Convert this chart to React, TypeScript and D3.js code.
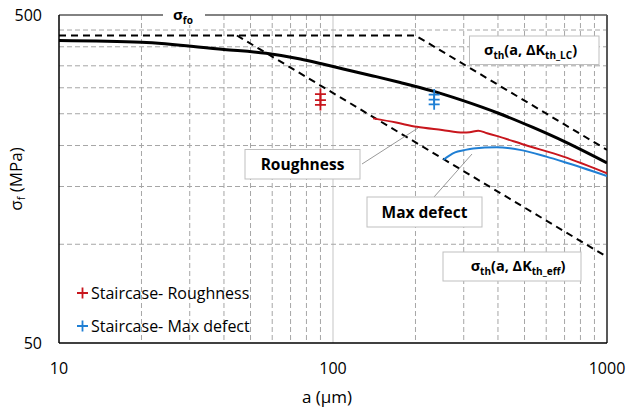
import { useEffect, useRef } from 'react'
import * as d3 from 'd3'

// a (µm) vs sigma (MPa)
const LC_LINE: [number, number][] = [[10, 433], [200, 433], [1000, 194]]
const EFF_LINE: [number, number][] = [[44.6, 433], [1000, 91.5]]
const KT_CURVE: [number, number][] = [
  [10, 418], [20, 413], [40, 392.5], [57, 382], [76, 367], [90, 355.6], [109, 342.3],
  [140, 326], [176, 311.3], [232, 293], [291, 276], [406, 250], [537, 227], [700, 205.5], [1000, 177],
]
const ROUGHNESS: [number, number][] = [
  [140, 242], [170, 235], [202, 228], [250, 223], [299, 219], [315, 219.5], [339, 222],
  [365, 218], [395, 214], [500, 201], [693, 185], [1000, 164.6],
]
const MAX_DEFECT: [number, number][] = [
  [253, 181], [265, 186], [279, 190.6], [300, 193.5], [325, 196], [395, 197.6],
  [481, 194], [600, 185], [693, 178.5], [1000, 161.5],
]
const STAIR_ROUGH: [number, number][] = [[90, 287], [90, 275], [90, 266]]
const STAIR_DEFECT: [number, number][] = [[234, 286], [234, 276], [234, 267]]

const X_MINOR = [20, 30, 40, 50, 60, 70, 80, 90, 200, 300, 400, 500, 600, 700, 800, 900]
const X_MAJOR = [100]
const Y_GRID = [100, 150, 200, 250, 300, 350, 400, 450]
const X_TICKS = [10, 100, 1000]
const Y_TICKS = [50, 500]

const RED = '#c8161d'
const BLUE = '#1f7fd4'
const FONT = '"Open Sans", sans-serif'

export default function App() {
  const ref = useRef<SVGSVGElement>(null)

  useEffect(() => {
    const svg = d3.select(ref.current)
    svg.selectAll('*').remove()

    const left = 59, right = 607, top = 15, bottom = 343
    const x = d3.scaleLog().domain([10, 1000]).range([left, right])
    const y = d3.scaleLog().domain([50, 500]).range([bottom, top])

    svg.append('defs').append('clipPath').attr('id', 'plot-clip')
      .append('rect').attr('x', left).attr('y', top)
      .attr('width', right - left).attr('height', bottom - top)

    // grid
    const grid = svg.append('g')
    grid.selectAll('.vminor').data(X_MINOR).join('line')
      .attr('x1', d => x(d)).attr('x2', d => x(d)).attr('y1', top).attr('y2', bottom)
      .attr('stroke', '#a6a6a6').attr('stroke-width', 1).attr('stroke-dasharray', '5,3')
    grid.selectAll('.vmajor').data(X_MAJOR).join('line')
      .attr('x1', d => x(d)).attr('x2', d => x(d)).attr('y1', top).attr('y2', bottom)
      .attr('stroke', '#d9d9d9').attr('stroke-width', 1.5)
    grid.selectAll('.hgrid').data(Y_GRID).join('line')
      .attr('x1', left).attr('x2', right).attr('y1', d => y(d)).attr('y2', d => y(d))
      .attr('stroke', '#a6a6a6').attr('stroke-width', 1).attr('stroke-dasharray', '5,3')

    // frame
    svg.append('line').attr('x1', left).attr('x2', right).attr('y1', top).attr('y2', top)
      .attr('stroke', '#595959').attr('stroke-width', 1.5)
    svg.append('line').attr('x1', right).attr('x2', right).attr('y1', top).attr('y2', bottom)
      .attr('stroke', '#595959').attr('stroke-width', 2)
    svg.append('line').attr('x1', left).attr('x2', left).attr('y1', top).attr('y2', bottom)
      .attr('stroke', '#000').attr('stroke-width', 1.5)
    svg.append('line').attr('x1', left).attr('x2', right).attr('y1', bottom).attr('y2', bottom)
      .attr('stroke', '#000').attr('stroke-width', 1.5)

    const plot = svg.append('g').attr('clip-path', 'url(#plot-clip)')
    const straight = d3.line<[number, number]>().x(d => x(d[0])).y(d => y(d[1]))
    const smooth = d3.line<[number, number]>().x(d => x(d[0])).y(d => y(d[1])).curve(d3.curveMonotoneX)

    plot.append('path').attr('d', straight(LC_LINE)).attr('fill', 'none')
      .attr('stroke', '#000').attr('stroke-width', 2).attr('stroke-dasharray', '7,5')
    plot.append('path').attr('d', straight(EFF_LINE)).attr('fill', 'none')
      .attr('stroke', '#000').attr('stroke-width', 2).attr('stroke-dasharray', '7,5')
    plot.append('path').attr('d', smooth(KT_CURVE)).attr('fill', 'none')
      .attr('stroke', '#000').attr('stroke-width', 3)
    plot.append('path').attr('d', smooth(ROUGHNESS)).attr('fill', 'none')
      .attr('stroke', RED).attr('stroke-width', 2)
    plot.append('path').attr('d', smooth(MAX_DEFECT)).attr('fill', 'none')
      .attr('stroke', BLUE).attr('stroke-width', 2)

    const plus = (g: d3.Selection<SVGGElement, unknown, null, undefined>, data: [number, number][], color: string) => {
      g.selectAll('path.pm').data(data).join('path')
        .attr('d', d => `M${x(d[0]) - 5.5},${y(d[1])}h11M${x(d[0])},${y(d[1]) - 5.5}v11`)
        .attr('stroke', color).attr('stroke-width', 1.8).attr('fill', 'none')
    }
    plus(plot.append('g'), STAIR_ROUGH, RED)
    plus(plot.append('g'), STAIR_DEFECT, BLUE)

    // leader lines
    svg.append('line').attr('x1', 362).attr('y1', 164).attr('x2', 418).attr('y2', 128)
      .attr('stroke', '#7f7f7f').attr('stroke-width', 0.8)
    svg.append('line').attr('x1', 434).attr('y1', 197).attr('x2', 472).attr('y2', 154)
      .attr('stroke', '#7f7f7f').attr('stroke-width', 0.8)

    // label boxes
    const box = (x0: number, y0: number, w: number, h: number) =>
      svg.append('rect').attr('x', x0).attr('y', y0).attr('width', w).attr('height', h)
        .attr('fill', '#fff').attr('stroke', '#bfbfbf').attr('stroke-width', 1)
    box(245, 149.5, 115, 29.5)
    box(367, 197, 115, 30)
    box(469.5, 36, 129.5, 28.5)
    box(443, 252, 138, 29)

    const label = (cx: number, by: number, txt: string) =>
      svg.append('text').attr('x', cx).attr('y', by).attr('text-anchor', 'middle')
        .attr('font-family', FONT).attr('font-weight', 700).attr('font-size', 15.5).text(txt)
    label(302.5, 170, 'Roughness')
    label(424.5, 218, 'Max defect')

    const sigmaLabel = (cx: number, by: number, sub: string) => {
      const t = svg.append('text').attr('x', cx).attr('y', by).attr('text-anchor', 'middle')
        .attr('font-family', FONT).attr('font-weight', 700).attr('font-size', 14.5)
      t.append('tspan').text('σ')
      t.append('tspan').attr('font-size', 10).attr('dy', 4).text('th')
      t.append('tspan').attr('dy', -4).text('(a, ΔK')
      t.append('tspan').attr('font-size', 10).attr('dy', 4).text(sub)
      t.append('tspan').attr('dy', -4).text(')')
    }
    sigmaLabel(530.5, 55, 'th_LC')
    sigmaLabel(518, 271, 'th_eff')

    // sigma_fo on the top border
    svg.append('rect').attr('x', 163).attr('y', 5).attr('width', 42).attr('height', 20).attr('fill', '#fff')
    const fo = svg.append('text').attr('x', 183).attr('y', 20).attr('text-anchor', 'middle')
      .attr('font-family', FONT).attr('font-weight', 700).attr('font-size', 15)
    fo.append('tspan').text('σ')
    fo.append('tspan').attr('font-size', 10).attr('dy', 4).text('fo')

    // ticks
    svg.selectAll('.xt').data(X_TICKS).join('text')
      .attr('x', d => x(d)).attr('y', 374).attr('text-anchor', 'middle')
      .attr('font-family', FONT).attr('font-size', 16).attr('fill', '#000').text(d => d)
    svg.selectAll('.yt').data(Y_TICKS).join('text')
      .attr('x', 42).attr('y', d => y(d) + 6).attr('text-anchor', 'end')
      .attr('font-family', FONT).attr('font-size', 16).attr('fill', '#000').text(d => d)

    // axis titles
    svg.append('text').attr('x', 327).attr('y', 403).attr('text-anchor', 'middle')
      .attr('font-family', FONT).attr('font-size', 17).text('a (μm)')
    const yt = svg.append('text').attr('transform', 'translate(22,179) rotate(-90)')
      .attr('text-anchor', 'middle').attr('font-family', FONT).attr('font-size', 17)
    yt.append('tspan').text('σ')
    yt.append('tspan').attr('font-size', 11).attr('dy', 3).text('f')
    yt.append('tspan').attr('dy', -3).text(' (MPa)')

    // legend
    const legend = [
      { color: RED, label: 'Staircase- Roughness', cy: 293 },
      { color: BLUE, label: 'Staircase- Max defect', cy: 326 },
    ]
    const lg = svg.append('g')
    lg.selectAll('path').data(legend).join('path')
      .attr('d', d => `M77,${d.cy}h11M82.5,${d.cy - 5.5}v11`)
      .attr('stroke', d => d.color).attr('stroke-width', 1.8)
    lg.selectAll('text').data(legend).join('text')
      .attr('x', 91).attr('y', d => d.cy + 6)
      .attr('font-family', FONT).attr('font-size', 16).text(d => d.label)
  }, [])

  return (
    <svg ref={ref} width={627} height={412}
      style={{ position: 'absolute', left: 0, top: 0, background: '#fff' }} />
  )
}
